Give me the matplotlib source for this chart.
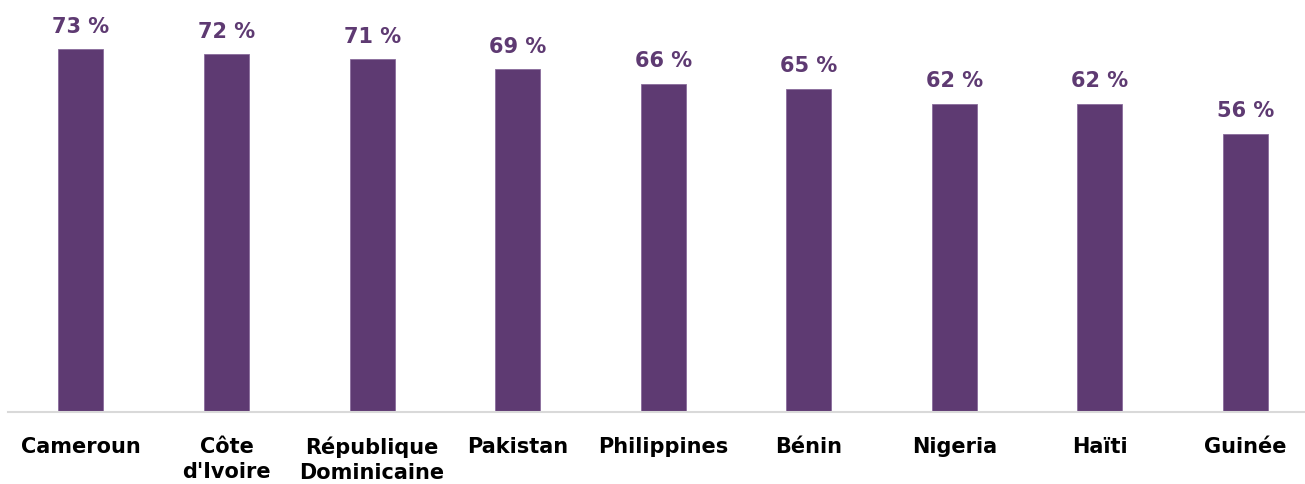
import matplotlib
matplotlib.use("Agg")
import matplotlib.pyplot as plt

categories = ["Cameroun", "Côte\nd'Ivoire", "République\nDominicaine", "Pakistan",
              "Philippines", "Bénin", "Nigeria", "Haïti", "Guinée"]
values = [73, 72, 71, 69, 66, 65, 62, 62, 56]
value_labels = ["73 %", "72 %", "71 %", "69 %", "66 %", "65 %", "62 %", "62 %", "56 %"]

purple = "#5E3A72"

fig = plt.figure(figsize=(13.05, 4.84), dpi=100)
ax = fig.add_axes([0.0, 72/484, 1.0, 412/484])

x = list(range(len(categories)))
ax.bar(x, values, width=0.31, color=purple, edgecolor="#8a6c9c", linewidth=0.6, zorder=2)

for xi, v, lab in zip(x, values, value_labels):
    ax.annotate(lab, (xi, v), xytext=(0, 9), textcoords="offset points",
                ha="center", va="bottom", fontsize=15, fontweight="bold", color=purple,
                family="DejaVu Sans")

ax.set_xlim(-0.556, 8.409)
ax.set_ylim(0, 82.9)
ax.set_xticks(x)
ax.set_xticklabels(categories, fontsize=15, fontweight="bold", color="black",
                   linespacing=1.3, va="top")
ax.tick_params(axis="x", length=0, pad=18)
ax.set_yticks([])
for s in ["top", "right", "left"]:
    ax.spines[s].set_visible(False)
ax.spines["bottom"].set_color("#d9d9d9")
ax.spines["bottom"].set_linewidth(1.5)
ax.spines["bottom"].set_bounds(-0.5, 8.409)

fig.savefig("out.png", dpi=100)
